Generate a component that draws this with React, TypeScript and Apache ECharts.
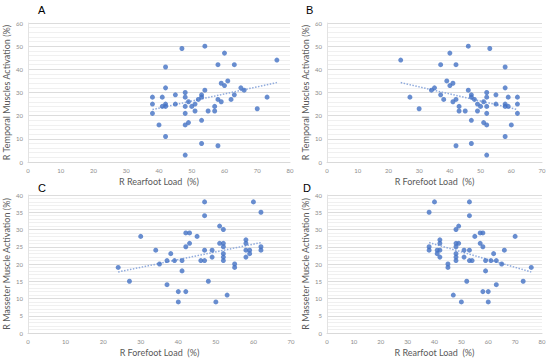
import React, { useEffect, useRef } from "react";
import * as echarts from "echarts";

// Panel A / B: temporal muscles activation
const rearfootLoadA = [47,54,60,42,58,63,76,59,61,60,42,54,65,66,38,41,45,48,48,53,63,52,53,58,59,62,73,38,41,42,42,45,49,50,51,48,57,38,48,51,55,57,70,40,49,48,53,42,53,58,48];
const forefootLoadB = [53,46,40,58,42,37,24,41,39,40,58,46,35,34,62,59,55,52,52,47,37,48,47,42,41,38,27,62,59,58,58,55,51,50,49,52,43,62,52,49,45,43,30,60,51,52,47,58,47,42,52];
const temporalActivation = [49,50,47,41,42,42,44,34,35,33,32,31,32,31,28,28,29,30,28,29,29,27,28,27,26,27,28,25,24,25,24,25,26,24,25,24,24,21,21,22,22,22,23,16,17,16,18,11,8,7,3];

// Panel C / D: masseter muscle activation
const forefootLoadC = [47,60,62,47,51,52,30,42,43,45,43,42,51,52,52,58,58,58,58,59,59,62,62,34,38,47,49,49,52,52,52,35,37,39,41,46,47,55,55,41,24,27,37,48,40,42,53,40,50];
const rearfootLoadD = [53,40,38,53,49,48,70,58,57,55,57,58,49,48,48,42,42,42,42,41,41,38,38,66,62,53,51,51,48,48,48,65,63,61,59,54,53,45,45,59,76,73,63,52,60,58,47,60,50];
const masseterActivation = [38,38,35,34,31,30,28,29,29,28,26,25,26,26,25,27,26,24,22,24,23,25,24,24,23,24,24,22,23,22,21,20,21,21,21,21,21,20,19,18,19,15,14,15,12,12,11,9,9];

const panelLetters = ["A", "B", "C", "D"];
const xTitles = ["R Rearfoot Load  (%)", "R Forefoot Load  (%)", "R Forefoot Load  (%)", "R Rearfoot Load  (%)"];
const yTitles = ["R Temporal Muscles Activation (%)", "R Temporal Muscles Activation (%)", "R Masseter Muscle Activation (%)", "R Masseter Muscle Activation (%)"];
const xMax = [80, 70, 70, 80];
const yMax = [60, 60, 40, 40];
const yInterval = [10, 10, 5, 5];

function fit(xs: number[], ys: number[]) {
  const n = xs.length;
  const mx = xs.reduce((a, b) => a + b, 0) / n;
  const my = ys.reduce((a, b) => a + b, 0) / n;
  let sxy = 0, sxx = 0;
  for (let i = 0; i < n; i++) {
    sxy += (xs[i] - mx) * (ys[i] - my);
    sxx += (xs[i] - mx) * (xs[i] - mx);
  }
  const b = sxy / sxx;
  const a = my - b * mx;
  const x0 = Math.min(...xs), x1 = Math.max(...xs);
  return [[x0, a + b * x0], [x1, a + b * x1]];
}

export default function App() {
  const ref = useRef<HTMLDivElement>(null);
  useEffect(() => {
    const chart = echarts.init(ref.current!, null, { renderer: "svg" });
    const pairs: [number[], number[]][] = [
      [rearfootLoadA, temporalActivation],
      [forefootLoadB, temporalActivation],
      [forefootLoadC, masseterActivation],
      [rearfootLoadD, masseterActivation],
    ];
    const grids = [
      { left: 28, top: 23, width: 262, height: 139 },
      { left: 327, top: 23, width: 215, height: 139 },
      { left: 28, top: 195, width: 263, height: 138 },
      { left: 327, top: 195, width: 215, height: 138 },
    ];
    const font = "Lato, 'Open Sans', sans-serif";
    const xAxis = grids.map((_, i) => ({
      type: "value",
      gridIndex: i,
      min: 0,
      max: xMax[i],
      interval: 10,
      name: xTitles[i],
      nameLocation: "middle",
      nameGap: 15,
      nameTextStyle: { fontSize: 9, color: "#595959", fontFamily: font },
      axisLine: { show: true, lineStyle: { color: "#d9d9d9", width: 1 } },
      axisTick: { show: false },
      axisLabel: { fontSize: 6, color: "#8c8c8c", margin: 5, fontFamily: font },
      splitLine: { show: false },
    }));
    const yAxis = grids.map((_, i) => ({
      type: "value",
      gridIndex: i,
      min: 0,
      max: yMax[i],
      interval: yInterval[i],
      name: yTitles[i],
      nameLocation: "middle",
      nameGap: 17,
      nameTextStyle: { fontSize: 9, color: "#595959", fontFamily: font },
      axisLine: { show: true, lineStyle: { color: "#e3e3e3", width: 1 } },
      axisTick: { show: false },
      axisLabel: { fontSize: 6, color: "#8c8c8c", margin: 5, fontFamily: font },
      splitLine: { show: true, lineStyle: { color: "#dcdcdc", width: 1 } },
      minorTick: { show: false, splitNumber: 5 },
      minorSplitLine: { show: true, lineStyle: { color: "#f0f0f0", width: 1 } },
    }));
    const series: any[] = [];
    pairs.forEach(([xs, ys], i) => {
      series.push({
        type: "scatter",
        xAxisIndex: i,
        yAxisIndex: i,
        symbolSize: 5,
        itemStyle: { color: "#4472C4" },
        data: xs.map((x, k) => [x, ys[k]]),
        z: 3,
      });
      series.push({
        type: "line",
        xAxisIndex: i,
        yAxisIndex: i,
        showSymbol: false,
        symbol: "none",
        lineStyle: { color: "#8FAADC", width: 1.5, type: "dotted" },
        data: fit(xs, ys),
        z: 2,
      });
    });
    const letterPos = [
      [38, 4], [306, 4], [38, 182], [303, 182],
    ];
    chart.setOption({
      animation: false,
      grid: grids,
      xAxis,
      yAxis,
      series,
      graphic: panelLetters.map((t, i) => ({
        type: "text",
        left: letterPos[i][0],
        top: letterPos[i][1],
        style: { text: t, fontSize: 11, fill: "#000", fontFamily: "'Liberation Sans', Arial, sans-serif" },
      })),
    });
    return () => chart.dispose();
  }, []);
  return (
    <div
      ref={ref}
      style={{ position: "fixed", left: 0, top: 0, width: 550, height: 362, background: "#fff" }}
    />
  );
}
